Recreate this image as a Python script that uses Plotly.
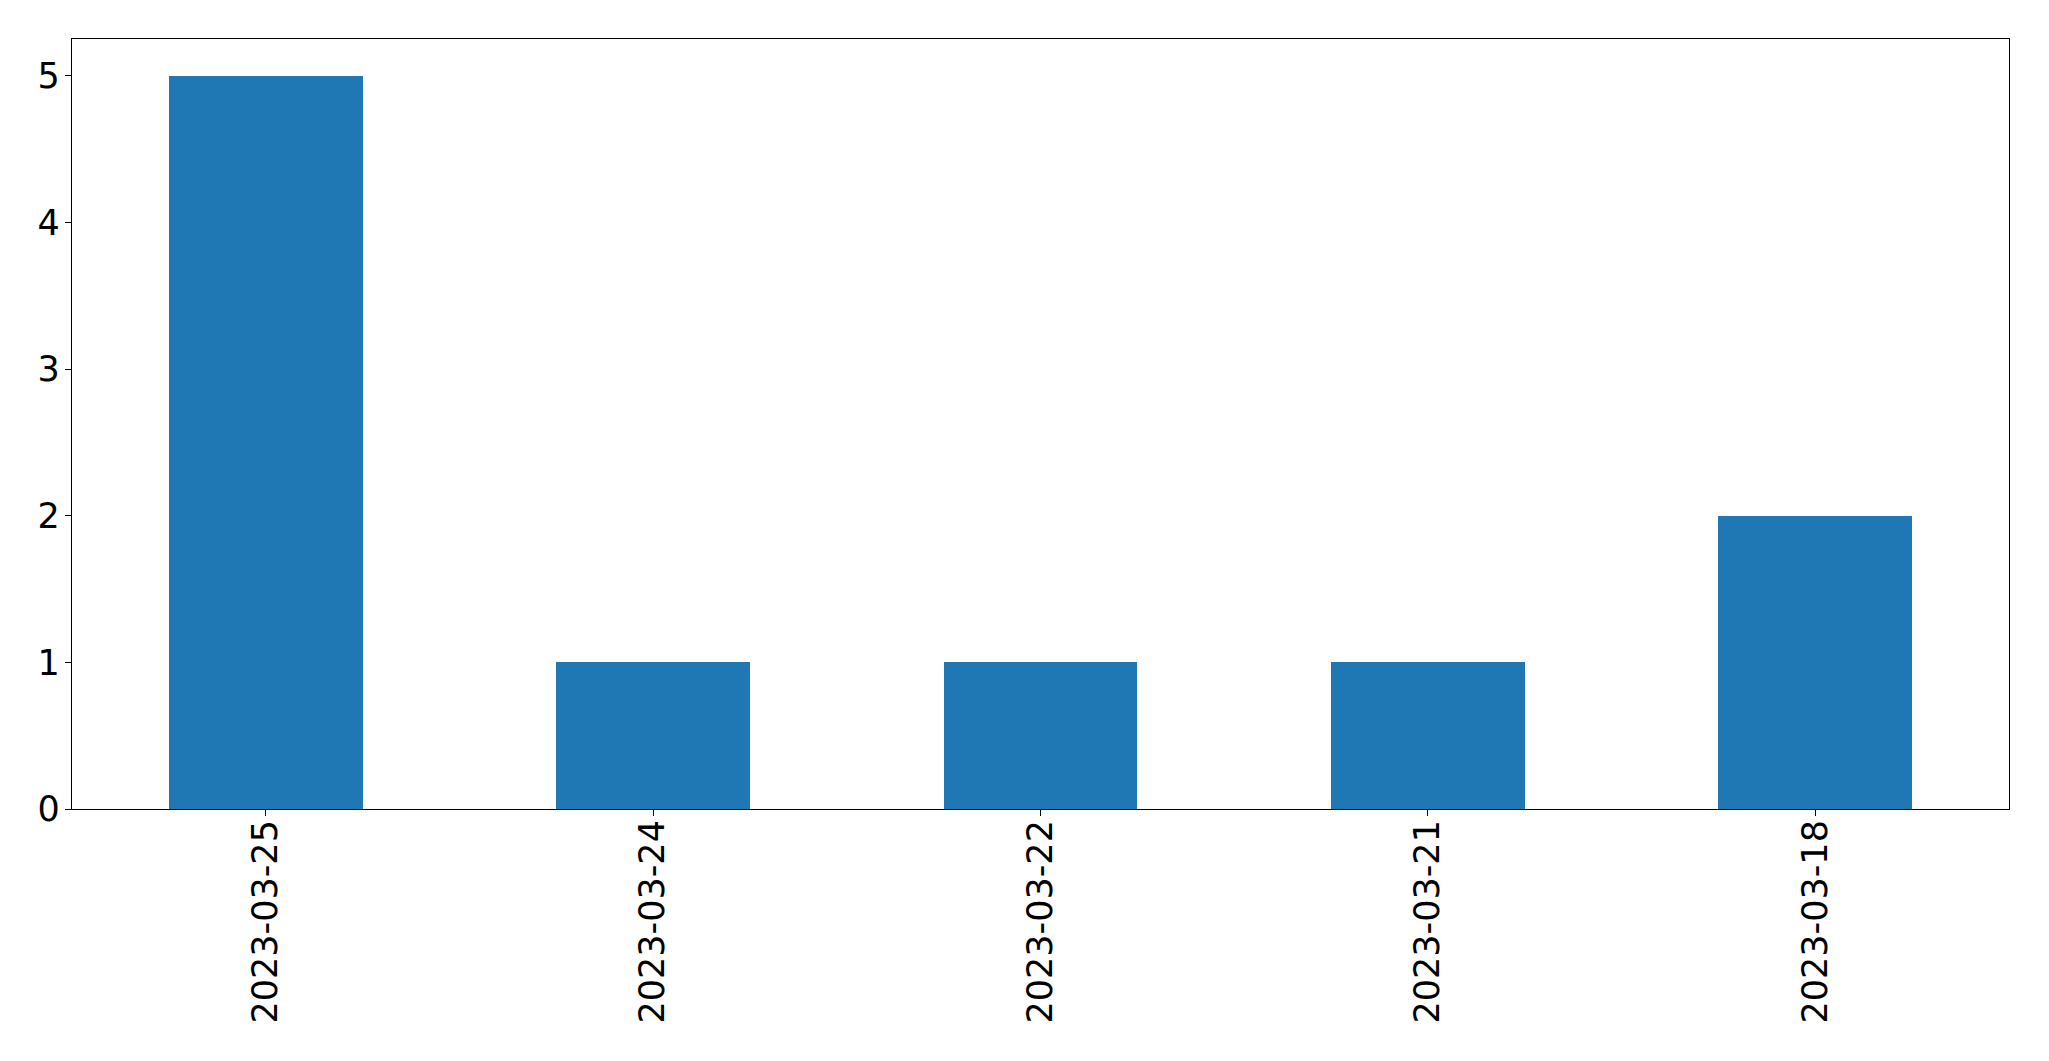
import plotly.graph_objects as go

dates = ["2023-03-25", "2023-03-24", "2023-03-22", "2023-03-21", "2023-03-18"]
counts = [5, 1, 1, 1, 2]
y_ticks = [0, 1, 2, 3, 4, 5]

fig = go.Figure()
fig.add_trace(go.Bar(x=dates, y=counts, width=0.5, marker=dict(color="#1f77b4", line=dict(width=0))))

fig.update_layout(
    width=2049, height=1061,
    margin=dict(l=72, r=40, t=39, b=252, pad=0),
    paper_bgcolor="white", plot_bgcolor="white",
    font=dict(family="DejaVu Sans", size=35, color="black"),
    showlegend=False,
    bargap=0,
)
fig.update_xaxes(
    type="category", range=[-0.5, 4.5],
    showline=True, linecolor="black", linewidth=1.2, mirror=True,
    ticks="outside", ticklen=6, tickwidth=1.2, tickcolor="black",
    tickangle=-90, showgrid=False, zeroline=False,
    ticklabelstandoff=-10,
)
fig.update_yaxes(
    range=[0, 5.25], tickvals=y_ticks,
    showline=True, linecolor="black", linewidth=1.2, mirror=True,
    ticks="outside", ticklen=6, tickwidth=1.2, tickcolor="black",
    showgrid=False, zeroline=False,
    ticklabelstandoff=-2,
)

fig.write_html(
    "out.html",
    config={"displayModeBar": False},
    post_script="document.body.style.margin='0';document.body.style.overflow='hidden';",
)
